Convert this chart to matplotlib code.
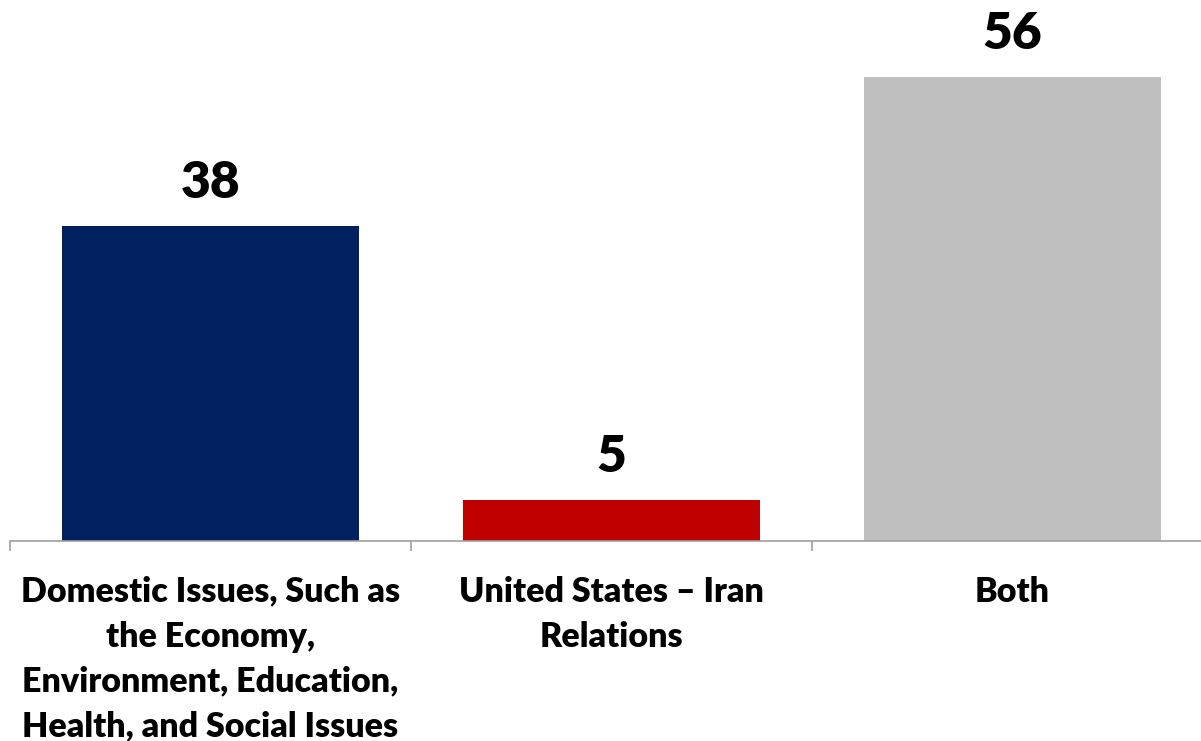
import matplotlib.pyplot as plt

categories = ['Domestic Issues, Such as\nthe Economy,\nEnvironment, Education,\nHealth, and Social Issues',
              'United States \u2013 Iran\nRelations',
              'Both']
values = [38, 5, 56]
colors = ['#002060', '#C00000', '#BFBFBF']

plt.rcParams['font.family'] = ['Lato', 'DejaVu Sans']

fig = plt.figure(figsize=(12.01, 7.41), dpi=100)
# axes runs a little past the right edge, like the original
ax = fig.add_axes([10 / 1201, (741 - 541) / 741, 1203 / 1201, (541 - 77) / 741 / 56 * 60])

x = range(len(values))
bars = ax.bar(x, values, width=0.74, color=colors)
ax.set_xlim(-0.5, 2.5)
ax.set_ylim(0, 60)

for i, v in enumerate(values):
    ax.text(i, v + 2.4, str(v), ha='center', va='bottom', fontsize=37, fontweight='heavy')

for s in ['top', 'right', 'left']:
    ax.spines[s].set_visible(False)
ax.spines['bottom'].set_color('#A0A0A0')
ax.spines['bottom'].set_linewidth(1.2)
ax.set_yticks([])
ax.set_xticks([-0.5, 0.5, 1.5])
ax.set_xticklabels([])
ax.tick_params(axis='x', length=7, color='#A0A0A0', width=1.2)

for i, c in enumerate(categories):
    ax.text(i, -4.2, c, ha='center', va='top', fontsize=24.5, fontweight='heavy', linespacing=1.5)

fig.savefig('out.png', dpi=100)
